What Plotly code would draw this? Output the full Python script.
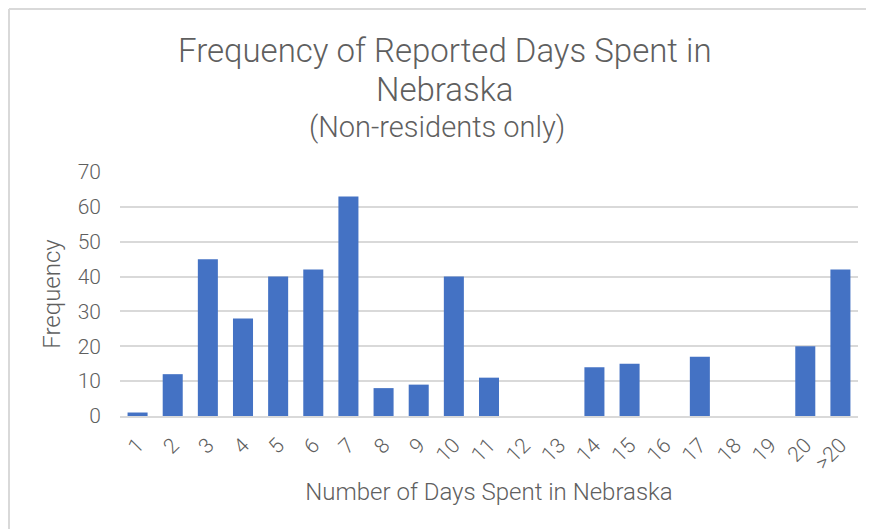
import plotly.graph_objects as go

categories = ["1", "2", "3", "4", "5", "6", "7", "8", "9", "10", "11", "12", "13",
              "14", "15", "16", "17", "18", "19", "20", ">20"]
frequency = [1, 12, 45, 28, 40, 42, 63, 8, 9, 40, 11, 0, 0, 14, 15, 0, 17, 0, 0, 20, 42]

title_line1 = "Frequency of Reported Days Spent in"
title_line2 = "Nebraska"
subtitle = "(Non-residents only)"
x_title = "Number of Days Spent in Nebraska"
y_title = "Frequency"

# page has an 8px body margin; the figure is sized to fit inside the 874x529 window
OFF = 8
W, H = 874 - OFF, 529 - OFF
# plot area in screen pixels: x 120..858, y 172..416
L, R, T, B = 120 - OFF, 874 - 858, 172 - OFF, 529 - 416
pw, ph = W - L - R, H - T - B

def px_x(p):  # screen px -> paper
    return (p - OFF - L) / pw

def px_y(p):
    return (H - B - (p - OFF)) / ph

TXT = "#5f5f5f"
GRID = "#d9d9d9"
FONT = "Roboto Light, Roboto"

fig = go.Figure(go.Bar(
    x=categories, y=frequency,
    marker=dict(color="#4472C4", line=dict(width=0)),
    hoverinfo="x+y",
))

fig.update_layout(
    width=W, height=H,
    margin=dict(l=L, r=R, t=T, b=B, pad=0),
    paper_bgcolor="white", plot_bgcolor="white",
    bargap=0.43,
    showlegend=False,
    font=dict(family=FONT, color=TXT, weight=300),
    xaxis=dict(
        type="category",
        tickangle=-45,
        tickfont=dict(size=21, color=TXT, family=FONT, weight=300),
        ticks="", ticklen=0,
        showgrid=False,
        showline=True, linecolor=GRID, linewidth=1.5,
        title=dict(text=x_title, font=dict(size=24, color=TXT, family=FONT, weight=300), standoff=10),
        ticklabelstandoff=7,
    ),
    yaxis=dict(
        range=[0, 70],
        dtick=10,
        tickfont=dict(size=21, color=TXT, family=FONT, weight=300),
        ticks="",
        showgrid=True, gridcolor=GRID, gridwidth=1.5,
        zeroline=False,
        showline=False,
        ticklabelstandoff=18,
        title=dict(text=y_title, font=dict(size=24, color=TXT, family=FONT, weight=300), standoff=10),
    ),
)

ann_common = dict(xref="paper", yref="paper", showarrow=False, xanchor="center", yanchor="middle")
cx = px_x(445)
fig.add_annotation(text=title_line1, x=cx, y=px_y(51), font=dict(size=33, color=TXT, family=FONT, weight=300), **ann_common)
fig.add_annotation(text=title_line2, x=cx, y=px_y(90), font=dict(size=33, color=TXT, family=FONT, weight=300), **ann_common)
fig.add_annotation(text=subtitle, x=px_x(437), y=px_y(127), font=dict(size=29, color=TXT, family=FONT, weight=300), **ann_common)

# chart-area border (top and left edges visible in the reference)
fig.add_shape(type="line", xref="paper", yref="paper",
              x0=px_x(9), x1=px_x(880), y0=px_y(9), y1=px_y(9),
              line=dict(color=GRID, width=2))
fig.add_shape(type="line", xref="paper", yref="paper",
              x0=px_x(9), x1=px_x(9), y0=px_y(9), y1=px_y(535),
              line=dict(color=GRID, width=2))

fig.write_html("out.html")
